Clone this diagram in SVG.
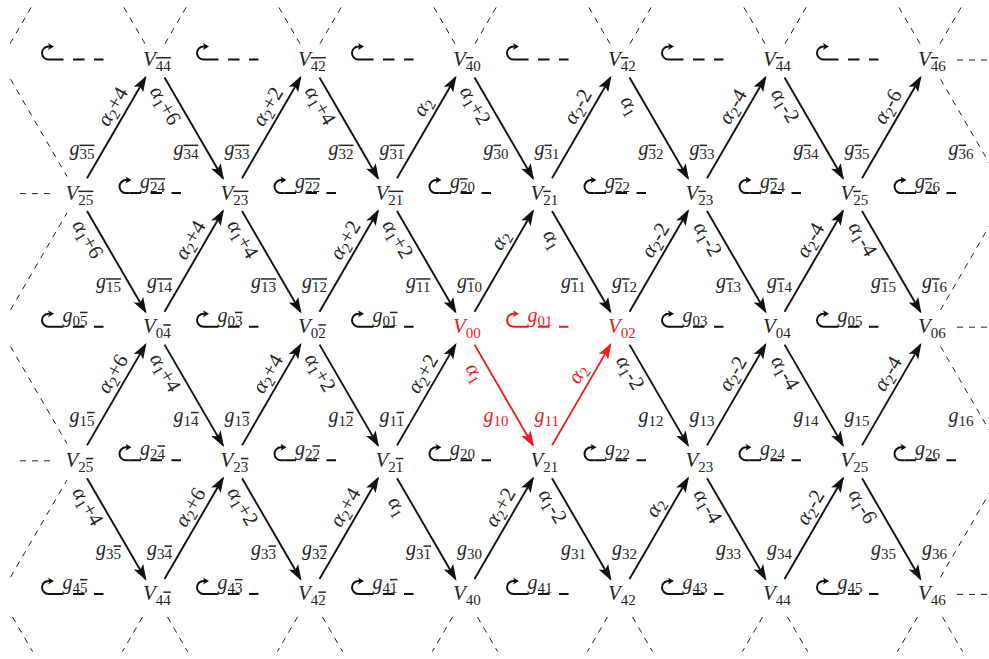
<svg xmlns="http://www.w3.org/2000/svg" xmlns:xlink="http://www.w3.org/1999/xlink" width="989" height="659" viewBox="0 0 989 659">
<style>
text{font-family:"Liberation Serif","Times New Roman",serif;fill:#262626}
.v{font-size:21px;font-style:italic}
.g{font-size:20px;font-style:italic}
.s{font-size:15px;font-style:normal}
.a{font-size:21px;font-style:normal;text-anchor:middle}
.as{font-size:15px}
.it{font-style:italic}
.ob{text-decoration:overline}
.e{stroke:#111;stroke-width:1.9;marker-end:url(#ah)}
.er{stroke:#ed1c24;stroke-width:1.9;marker-end:url(#ahr)}
.d{stroke:#222;stroke-width:1;stroke-dasharray:6 6;fill:none}
.hk{stroke-width:2;fill:none}
.ld{stroke-width:2;stroke-dasharray:11.5 9.5}
text.r,.r text,tspan.r{fill:#ed1c24}
</style>
<defs>
<marker id="ah" markerUnits="userSpaceOnUse" viewBox="-16 -7 19 14" refX="0" refY="0" markerWidth="19" markerHeight="14" orient="auto"><path d="M2,0 L-14,-5.5 L-10.5,0 L-14,5.5 Z" fill="#111"/></marker>
<marker id="ahr" markerUnits="userSpaceOnUse" viewBox="-16 -7 19 14" refX="0" refY="0" markerWidth="19" markerHeight="14" orient="auto"><path d="M2,0 L-14,-5.5 L-10.5,0 L-14,5.5 Z" fill="#ed1c24"/></marker>
<g id="loop" stroke="#111"><path class="hk" d="M-25.5,0 H-29 A6.5,6.5 0 0 1 -29,-13 H-27.5"/><polygon points="-23.5,-13 -29.5,-16.5 -28,-13 -29.5,-9.5" fill="#111" stroke="none"/><line class="ld" x1="-25.5" y1="0" x2="26" y2="0"/></g>
<g id="loopR" stroke="#ed1c24"><path class="hk" d="M-25.5,0 H-29 A6.5,6.5 0 0 1 -29,-13 H-27.5"/><polygon points="-23.5,-13 -29.5,-16.5 -28,-13 -29.5,-9.5" fill="#ed1c24" stroke="none"/><line class="ld" x1="-25.5" y1="0" x2="26" y2="0"/></g>
</defs>

<g id="connectors">
<g id="edges">
<line class="e" x1="87.03" y1="178.16" x2="145.47" y2="77.44"/>
<line class="e" x1="242.03" y1="178.16" x2="300.47" y2="77.44"/>
<line class="e" x1="397.03" y1="178.16" x2="455.47" y2="77.44"/>
<line class="e" x1="552.03" y1="178.16" x2="610.47" y2="77.44"/>
<line class="e" x1="707.03" y1="178.16" x2="765.47" y2="77.44"/>
<line class="e" x1="862.03" y1="178.16" x2="920.47" y2="77.44"/>
<line class="e" x1="164.53" y1="77.44" x2="222.97" y2="178.16"/>
<line class="e" x1="319.53" y1="77.44" x2="377.97" y2="178.16"/>
<line class="e" x1="474.53" y1="77.44" x2="532.97" y2="178.16"/>
<line class="e" x1="629.53" y1="77.44" x2="687.97" y2="178.16"/>
<line class="e" x1="784.53" y1="77.44" x2="842.97" y2="178.16"/>

<line class="e" x1="87.03" y1="211.04" x2="145.47" y2="311.76"/>
<line class="e" x1="242.03" y1="211.04" x2="300.47" y2="311.76"/>
<line class="e" x1="397.03" y1="211.04" x2="455.47" y2="311.76"/>
<line class="e" x1="552.03" y1="211.04" x2="610.47" y2="311.76"/>
<line class="e" x1="707.03" y1="211.04" x2="765.47" y2="311.76"/>
<line class="e" x1="862.03" y1="211.04" x2="920.47" y2="311.76"/>
<line class="e" x1="164.53" y1="311.76" x2="222.97" y2="211.04"/>
<line class="e" x1="319.53" y1="311.76" x2="377.97" y2="211.04"/>
<line class="e" x1="474.53" y1="311.76" x2="532.97" y2="211.04"/>
<line class="e" x1="629.53" y1="311.76" x2="687.97" y2="211.04"/>
<line class="e" x1="784.53" y1="311.76" x2="842.97" y2="211.04"/>

<line class="e" x1="87.03" y1="445.36" x2="145.47" y2="344.64"/>
<line class="e" x1="242.03" y1="445.36" x2="300.47" y2="344.64"/>
<line class="e" x1="397.03" y1="445.36" x2="455.47" y2="344.64"/>
<line class="er" x1="552.03" y1="445.36" x2="610.47" y2="344.64"/>
<line class="e" x1="707.03" y1="445.36" x2="765.47" y2="344.64"/>
<line class="e" x1="862.03" y1="445.36" x2="920.47" y2="344.64"/>
<line class="e" x1="164.53" y1="344.64" x2="222.97" y2="445.36"/>
<line class="e" x1="319.53" y1="344.64" x2="377.97" y2="445.36"/>
<line class="er" x1="474.53" y1="344.64" x2="532.97" y2="445.36"/>
<line class="e" x1="629.53" y1="344.64" x2="687.97" y2="445.36"/>
<line class="e" x1="784.53" y1="344.64" x2="842.97" y2="445.36"/>

<line class="e" x1="87.03" y1="478.24" x2="145.47" y2="578.96"/>
<line class="e" x1="242.03" y1="478.24" x2="300.47" y2="578.96"/>
<line class="e" x1="397.03" y1="478.24" x2="455.47" y2="578.96"/>
<line class="e" x1="552.03" y1="478.24" x2="610.47" y2="578.96"/>
<line class="e" x1="707.03" y1="478.24" x2="765.47" y2="578.96"/>
<line class="e" x1="862.03" y1="478.24" x2="920.47" y2="578.96"/>
<line class="e" x1="164.53" y1="578.96" x2="222.97" y2="478.24"/>
<line class="e" x1="319.53" y1="578.96" x2="377.97" y2="478.24"/>
<line class="e" x1="474.53" y1="578.96" x2="532.97" y2="478.24"/>
<line class="e" x1="629.53" y1="578.96" x2="687.97" y2="478.24"/>
<line class="e" x1="784.53" y1="578.96" x2="842.97" y2="478.24"/>
</g>

<g id="boundary" class="d">
<path d="M10,43.7 L31.1,7.4 M145,43.7 L123.9,7.4 M165,43.7 L186.1,7.4 M300,43.7 L278.9,7.4 M320,43.7 L341.1,7.4 M455,43.7 L433.9,7.4 M475,43.7 L496.1,7.4 M610,43.7 L588.9,7.4 M630,43.7 L651.1,7.4 M765,43.7 L743.9,7.4 M785,43.7 L806.1,7.4 M920,43.7 L898.9,7.4 M940,43.7 L961.1,7.4"/>
<path d="M12.5,617 L32.6,651.6 M142.5,617 L122.4,651.6 M167.5,617 L187.6,651.6 M297.5,617 L277.4,651.6 M322.5,617 L342.6,651.6 M452.5,617 L432.4,651.6 M477.5,617 L497.6,651.6 M607.5,617 L587.4,651.6 M632.5,617 L652.6,651.6 M762.5,617 L742.4,651.6 M787.5,617 L807.6,651.6 M917.5,617 L897.4,651.6 M942.5,617 L962.6,651.6"/>
<path d="M10.5,79.2 L67,176.4 M10.5,310 L67,212.8 M10.5,346.4 L67,443.6 M10.5,577.2 L67,480"/>
<path d="M940.5,79.2 L997,176.4 M940.5,310 L997,212.8 M940.5,346.4 L997,443.6 M940.5,577.2 L997,480"/>
<path d="M20,193.6 H52 M20,460.8 H52 M957,60 H989 M957,327.2 H989 M957,594.4 H989"/>
</g>

<g id="loops">
<use xlink:href="#loop" x="77.5" y="59.5"/><use xlink:href="#loop" x="232.5" y="59.5"/><use xlink:href="#loop" x="387.5" y="59.5"/><use xlink:href="#loop" x="542.5" y="59.5"/><use xlink:href="#loop" x="697.5" y="59.5"/><use xlink:href="#loop" x="852.5" y="59.5"/>
<use xlink:href="#loop" x="155" y="193.1"/><use xlink:href="#loop" x="310" y="193.1"/><use xlink:href="#loop" x="465" y="193.1"/><use xlink:href="#loop" x="620" y="193.1"/><use xlink:href="#loop" x="775" y="193.1"/><use xlink:href="#loop" x="930" y="193.1"/>
<use xlink:href="#loop" x="77.5" y="326.7"/><use xlink:href="#loop" x="232.5" y="326.7"/><use xlink:href="#loop" x="387.5" y="326.7"/><use xlink:href="#loopR" x="542.5" y="326.7"/><use xlink:href="#loop" x="697.5" y="326.7"/><use xlink:href="#loop" x="852.5" y="326.7"/>
<use xlink:href="#loop" x="155" y="460.3"/><use xlink:href="#loop" x="310" y="460.3"/><use xlink:href="#loop" x="465" y="460.3"/><use xlink:href="#loop" x="620" y="460.3"/><use xlink:href="#loop" x="775" y="460.3"/><use xlink:href="#loop" x="930" y="460.3"/>
<use xlink:href="#loop" x="77.5" y="593.9"/><use xlink:href="#loop" x="232.5" y="593.9"/><use xlink:href="#loop" x="387.5" y="593.9"/><use xlink:href="#loop" x="542.5" y="593.9"/><use xlink:href="#loop" x="697.5" y="593.9"/><use xlink:href="#loop" x="852.5" y="593.9"/>
</g>

<g id="loop-labels">
<text class="g" x="140" y="188.1">g<tspan class="s" dy="4"><tspan class="ob">24</tspan></tspan></text>
<text class="g" x="295" y="188.1">g<tspan class="s" dy="4"><tspan class="ob">22</tspan></tspan></text>
<text class="g" x="450" y="188.1">g<tspan class="s" dy="4"><tspan class="ob">2</tspan>0</tspan></text>
<text class="g" x="605" y="188.1">g<tspan class="s" dy="4"><tspan class="ob">2</tspan>2</tspan></text>
<text class="g" x="760" y="188.1">g<tspan class="s" dy="4"><tspan class="ob">2</tspan>4</tspan></text>
<text class="g" x="915" y="188.1">g<tspan class="s" dy="4"><tspan class="ob">2</tspan>6</tspan></text>
<text class="g" x="62.5" y="321.7">g<tspan class="s" dy="4">0<tspan class="ob">5</tspan></tspan></text>
<text class="g" x="217.5" y="321.7">g<tspan class="s" dy="4">0<tspan class="ob">3</tspan></tspan></text>
<text class="g" x="372.5" y="321.7">g<tspan class="s" dy="4">0<tspan class="ob">1</tspan></tspan></text>
<text class="g r" x="527.5" y="321.7">g<tspan class="s" dy="4">01</tspan></text>
<text class="g" x="682.5" y="321.7">g<tspan class="s" dy="4">03</tspan></text>
<text class="g" x="837.5" y="321.7">g<tspan class="s" dy="4">05</tspan></text>
<text class="g" x="140" y="455.3">g<tspan class="s" dy="4">2<tspan class="ob">4</tspan></tspan></text>
<text class="g" x="295" y="455.3">g<tspan class="s" dy="4">2<tspan class="ob">2</tspan></tspan></text>
<text class="g" x="450" y="455.3">g<tspan class="s" dy="4">20</tspan></text>
<text class="g" x="605" y="455.3">g<tspan class="s" dy="4">22</tspan></text>
<text class="g" x="760" y="455.3">g<tspan class="s" dy="4">24</tspan></text>
<text class="g" x="915" y="455.3">g<tspan class="s" dy="4">26</tspan></text>
<text class="g" x="62.5" y="588.9">g<tspan class="s" dy="4">4<tspan class="ob">5</tspan></tspan></text>
<text class="g" x="217.5" y="588.9">g<tspan class="s" dy="4">4<tspan class="ob">3</tspan></tspan></text>
<text class="g" x="372.5" y="588.9">g<tspan class="s" dy="4">4<tspan class="ob">1</tspan></tspan></text>
<text class="g" x="527.5" y="588.9">g<tspan class="s" dy="4">41</tspan></text>
<text class="g" x="682.5" y="588.9">g<tspan class="s" dy="4">43</tspan></text>
<text class="g" x="837.5" y="588.9">g<tspan class="s" dy="4">45</tspan></text>
</g>

<g id="edge-g-labels">
<text class="g" x="69.5" y="154.6">g<tspan class="s" dy="4"><tspan class="ob">35</tspan></tspan></text>
<text class="g" x="173.5" y="154.6">g<tspan class="s" dy="4"><tspan class="ob">34</tspan></tspan></text>
<text class="g" x="224.5" y="154.6">g<tspan class="s" dy="4"><tspan class="ob">33</tspan></tspan></text>
<text class="g" x="328.5" y="154.6">g<tspan class="s" dy="4"><tspan class="ob">32</tspan></tspan></text>
<text class="g" x="379.5" y="154.6">g<tspan class="s" dy="4"><tspan class="ob">31</tspan></tspan></text>
<text class="g" x="483.5" y="154.6">g<tspan class="s" dy="4"><tspan class="ob">3</tspan>0</tspan></text>
<text class="g" x="534.5" y="154.6">g<tspan class="s" dy="4"><tspan class="ob">3</tspan>1</tspan></text>
<text class="g" x="638.5" y="154.6">g<tspan class="s" dy="4"><tspan class="ob">3</tspan>2</tspan></text>
<text class="g" x="689.5" y="154.6">g<tspan class="s" dy="4"><tspan class="ob">3</tspan>3</tspan></text>
<text class="g" x="793.5" y="154.6">g<tspan class="s" dy="4"><tspan class="ob">3</tspan>4</tspan></text>
<text class="g" x="844.5" y="154.6">g<tspan class="s" dy="4"><tspan class="ob">3</tspan>5</tspan></text>
<text class="g" x="948.5" y="154.6">g<tspan class="s" dy="4"><tspan class="ob">3</tspan>6</tspan></text>

<text class="g" x="96" y="288.2">g<tspan class="s" dy="4"><tspan class="ob">15</tspan></tspan></text>
<text class="g" x="147" y="288.2">g<tspan class="s" dy="4"><tspan class="ob">14</tspan></tspan></text>
<text class="g" x="251" y="288.2">g<tspan class="s" dy="4"><tspan class="ob">13</tspan></tspan></text>
<text class="g" x="302" y="288.2">g<tspan class="s" dy="4"><tspan class="ob">12</tspan></tspan></text>
<text class="g" x="406" y="288.2">g<tspan class="s" dy="4"><tspan class="ob">11</tspan></tspan></text>
<text class="g" x="457" y="288.2">g<tspan class="s" dy="4"><tspan class="ob">1</tspan>0</tspan></text>
<text class="g" x="561" y="288.2">g<tspan class="s" dy="4"><tspan class="ob">1</tspan>1</tspan></text>
<text class="g" x="612" y="288.2">g<tspan class="s" dy="4"><tspan class="ob">1</tspan>2</tspan></text>
<text class="g" x="716" y="288.2">g<tspan class="s" dy="4"><tspan class="ob">1</tspan>3</tspan></text>
<text class="g" x="767" y="288.2">g<tspan class="s" dy="4"><tspan class="ob">1</tspan>4</tspan></text>
<text class="g" x="871" y="288.2">g<tspan class="s" dy="4"><tspan class="ob">1</tspan>5</tspan></text>
<text class="g" x="922" y="288.2">g<tspan class="s" dy="4"><tspan class="ob">1</tspan>6</tspan></text>

<text class="g" x="69.5" y="421.8">g<tspan class="s" dy="4">1<tspan class="ob">5</tspan></tspan></text>
<text class="g" x="173.5" y="421.8">g<tspan class="s" dy="4">1<tspan class="ob">4</tspan></tspan></text>
<text class="g" x="224.5" y="421.8">g<tspan class="s" dy="4">1<tspan class="ob">3</tspan></tspan></text>
<text class="g" x="328.5" y="421.8">g<tspan class="s" dy="4">1<tspan class="ob">2</tspan></tspan></text>
<text class="g" x="379.5" y="421.8">g<tspan class="s" dy="4">1<tspan class="ob">1</tspan></tspan></text>
<text class="g r" x="483.5" y="421.8">g<tspan class="s" dy="4">10</tspan></text>
<text class="g r" x="534.5" y="421.8">g<tspan class="s" dy="4">11</tspan></text>
<text class="g" x="638.5" y="421.8">g<tspan class="s" dy="4">12</tspan></text>
<text class="g" x="689.5" y="421.8">g<tspan class="s" dy="4">13</tspan></text>
<text class="g" x="793.5" y="421.8">g<tspan class="s" dy="4">14</tspan></text>
<text class="g" x="844.5" y="421.8">g<tspan class="s" dy="4">15</tspan></text>
<text class="g" x="948.5" y="421.8">g<tspan class="s" dy="4">16</tspan></text>

<text class="g" x="96" y="555.4">g<tspan class="s" dy="4">3<tspan class="ob">5</tspan></tspan></text>
<text class="g" x="147" y="555.4">g<tspan class="s" dy="4">3<tspan class="ob">4</tspan></tspan></text>
<text class="g" x="251" y="555.4">g<tspan class="s" dy="4">3<tspan class="ob">3</tspan></tspan></text>
<text class="g" x="302" y="555.4">g<tspan class="s" dy="4">3<tspan class="ob">2</tspan></tspan></text>
<text class="g" x="406" y="555.4">g<tspan class="s" dy="4">3<tspan class="ob">1</tspan></tspan></text>
<text class="g" x="457" y="555.4">g<tspan class="s" dy="4">30</tspan></text>
<text class="g" x="561" y="555.4">g<tspan class="s" dy="4">31</tspan></text>
<text class="g" x="612" y="555.4">g<tspan class="s" dy="4">32</tspan></text>
<text class="g" x="716" y="555.4">g<tspan class="s" dy="4">33</tspan></text>
<text class="g" x="767" y="555.4">g<tspan class="s" dy="4">34</tspan></text>
<text class="g" x="871" y="555.4">g<tspan class="s" dy="4">35</tspan></text>
<text class="g" x="922" y="555.4">g<tspan class="s" dy="4">36</tspan></text>
</g>

<g id="edge-alpha-labels">
<text class="a" transform="translate(113.25,106.8) rotate(-60)" y="6"><tspan class="it">α</tspan><tspan class="as" dy="4">2</tspan><tspan dy="-4">+4</tspan></text>
<text class="a" transform="translate(268.25,106.8) rotate(-60)" y="6"><tspan class="it">α</tspan><tspan class="as" dy="4">2</tspan><tspan dy="-4">+2</tspan></text>
<text class="a" transform="translate(423.25,106.8) rotate(-60)" y="6"><tspan class="it">α</tspan><tspan class="as" dy="4">2</tspan></text>
<text class="a" transform="translate(578.25,106.8) rotate(-60)" y="6"><tspan class="it">α</tspan><tspan class="as" dy="4">2</tspan><tspan dy="-4">-2</tspan></text>
<text class="a" transform="translate(733.25,106.8) rotate(-60)" y="6"><tspan class="it">α</tspan><tspan class="as" dy="4">2</tspan><tspan dy="-4">-4</tspan></text>
<text class="a" transform="translate(888.25,106.8) rotate(-60)" y="6"><tspan class="it">α</tspan><tspan class="as" dy="4">2</tspan><tspan dy="-4">-6</tspan></text>
<text class="a" transform="translate(164.75,105.8) rotate(60)" y="6"><tspan class="it">α</tspan><tspan class="as" dy="4">1</tspan><tspan dy="-4">+6</tspan></text>
<text class="a" transform="translate(319.75,105.8) rotate(60)" y="6"><tspan class="it">α</tspan><tspan class="as" dy="4">1</tspan><tspan dy="-4">+4</tspan></text>
<text class="a" transform="translate(474.75,105.8) rotate(60)" y="6"><tspan class="it">α</tspan><tspan class="as" dy="4">1</tspan><tspan dy="-4">+2</tspan></text>
<text class="a" transform="translate(629.75,105.8) rotate(60)" y="6"><tspan class="it">α</tspan><tspan class="as" dy="4">1</tspan></text>
<text class="a" transform="translate(784.75,105.8) rotate(60)" y="6"><tspan class="it">α</tspan><tspan class="as" dy="4">1</tspan><tspan dy="-4">-2</tspan></text>

<text class="a" transform="translate(87.25,239.4) rotate(60)" y="6"><tspan class="it">α</tspan><tspan class="as" dy="4">1</tspan><tspan dy="-4">+6</tspan></text>
<text class="a" transform="translate(242.25,239.4) rotate(60)" y="6"><tspan class="it">α</tspan><tspan class="as" dy="4">1</tspan><tspan dy="-4">+4</tspan></text>
<text class="a" transform="translate(397.25,239.4) rotate(60)" y="6"><tspan class="it">α</tspan><tspan class="as" dy="4">1</tspan><tspan dy="-4">+2</tspan></text>
<text class="a" transform="translate(552.25,239.4) rotate(60)" y="6"><tspan class="it">α</tspan><tspan class="as" dy="4">1</tspan></text>
<text class="a" transform="translate(707.25,239.4) rotate(60)" y="6"><tspan class="it">α</tspan><tspan class="as" dy="4">1</tspan><tspan dy="-4">-2</tspan></text>
<text class="a" transform="translate(862.25,239.4) rotate(60)" y="6"><tspan class="it">α</tspan><tspan class="as" dy="4">1</tspan><tspan dy="-4">-4</tspan></text>
<text class="a" transform="translate(190.75,240.4) rotate(-60)" y="6"><tspan class="it">α</tspan><tspan class="as" dy="4">2</tspan><tspan dy="-4">+4</tspan></text>
<text class="a" transform="translate(345.75,240.4) rotate(-60)" y="6"><tspan class="it">α</tspan><tspan class="as" dy="4">2</tspan><tspan dy="-4">+2</tspan></text>
<text class="a" transform="translate(500.75,240.4) rotate(-60)" y="6"><tspan class="it">α</tspan><tspan class="as" dy="4">2</tspan></text>
<text class="a" transform="translate(655.75,240.4) rotate(-60)" y="6"><tspan class="it">α</tspan><tspan class="as" dy="4">2</tspan><tspan dy="-4">-2</tspan></text>
<text class="a" transform="translate(810.75,240.4) rotate(-60)" y="6"><tspan class="it">α</tspan><tspan class="as" dy="4">2</tspan><tspan dy="-4">-4</tspan></text>

<text class="a" transform="translate(113.25,374) rotate(-60)" y="6"><tspan class="it">α</tspan><tspan class="as" dy="4">2</tspan><tspan dy="-4">+6</tspan></text>
<text class="a" transform="translate(268.25,374) rotate(-60)" y="6"><tspan class="it">α</tspan><tspan class="as" dy="4">2</tspan><tspan dy="-4">+4</tspan></text>
<text class="a" transform="translate(423.25,374) rotate(-60)" y="6"><tspan class="it">α</tspan><tspan class="as" dy="4">2</tspan><tspan dy="-4">+2</tspan></text>
<text class="a r" transform="translate(578.25,374) rotate(-60)" y="6"><tspan class="it">α</tspan><tspan class="as" dy="4">2</tspan></text>
<text class="a" transform="translate(733.25,374) rotate(-60)" y="6"><tspan class="it">α</tspan><tspan class="as" dy="4">2</tspan><tspan dy="-4">-2</tspan></text>
<text class="a" transform="translate(888.25,374) rotate(-60)" y="6"><tspan class="it">α</tspan><tspan class="as" dy="4">2</tspan><tspan dy="-4">-4</tspan></text>
<text class="a" transform="translate(164.75,373) rotate(60)" y="6"><tspan class="it">α</tspan><tspan class="as" dy="4">1</tspan><tspan dy="-4">+4</tspan></text>
<text class="a" transform="translate(319.75,373) rotate(60)" y="6"><tspan class="it">α</tspan><tspan class="as" dy="4">1</tspan><tspan dy="-4">+2</tspan></text>
<text class="a r" transform="translate(474.75,373) rotate(60)" y="6"><tspan class="it">α</tspan><tspan class="as" dy="4">1</tspan></text>
<text class="a" transform="translate(629.75,373) rotate(60)" y="6"><tspan class="it">α</tspan><tspan class="as" dy="4">1</tspan><tspan dy="-4">-2</tspan></text>
<text class="a" transform="translate(784.75,373) rotate(60)" y="6"><tspan class="it">α</tspan><tspan class="as" dy="4">1</tspan><tspan dy="-4">-4</tspan></text>

<text class="a" transform="translate(87.25,506.6) rotate(60)" y="6"><tspan class="it">α</tspan><tspan class="as" dy="4">1</tspan><tspan dy="-4">+4</tspan></text>
<text class="a" transform="translate(242.25,506.6) rotate(60)" y="6"><tspan class="it">α</tspan><tspan class="as" dy="4">1</tspan><tspan dy="-4">+2</tspan></text>
<text class="a" transform="translate(397.25,506.6) rotate(60)" y="6"><tspan class="it">α</tspan><tspan class="as" dy="4">1</tspan></text>
<text class="a" transform="translate(552.25,506.6) rotate(60)" y="6"><tspan class="it">α</tspan><tspan class="as" dy="4">1</tspan><tspan dy="-4">-2</tspan></text>
<text class="a" transform="translate(707.25,506.6) rotate(60)" y="6"><tspan class="it">α</tspan><tspan class="as" dy="4">1</tspan><tspan dy="-4">-4</tspan></text>
<text class="a" transform="translate(862.25,506.6) rotate(60)" y="6"><tspan class="it">α</tspan><tspan class="as" dy="4">1</tspan><tspan dy="-4">-6</tspan></text>
<text class="a" transform="translate(190.75,507.6) rotate(-60)" y="6"><tspan class="it">α</tspan><tspan class="as" dy="4">2</tspan><tspan dy="-4">+6</tspan></text>
<text class="a" transform="translate(345.75,507.6) rotate(-60)" y="6"><tspan class="it">α</tspan><tspan class="as" dy="4">2</tspan><tspan dy="-4">+4</tspan></text>
<text class="a" transform="translate(500.75,507.6) rotate(-60)" y="6"><tspan class="it">α</tspan><tspan class="as" dy="4">2</tspan><tspan dy="-4">+2</tspan></text>
<text class="a" transform="translate(655.75,507.6) rotate(-60)" y="6"><tspan class="it">α</tspan><tspan class="as" dy="4">2</tspan></text>
<text class="a" transform="translate(810.75,507.6) rotate(-60)" y="6"><tspan class="it">α</tspan><tspan class="as" dy="4">2</tspan><tspan dy="-4">-2</tspan></text>
</g>
</g>

<g id="nodes">
<g id="V_m4m4"><text class="v" x="143" y="66">V<tspan class="s" dy="5"><tspan class="ob">44</tspan></tspan></text></g>
<g id="V_m4m2"><text class="v" x="298" y="66">V<tspan class="s" dy="5"><tspan class="ob">42</tspan></tspan></text></g>
<g id="V_m40"><text class="v" x="453" y="66">V<tspan class="s" dy="5"><tspan class="ob">4</tspan>0</tspan></text></g>
<g id="V_m42"><text class="v" x="608" y="66">V<tspan class="s" dy="5"><tspan class="ob">4</tspan>2</tspan></text></g>
<g id="V_m44"><text class="v" x="763" y="66">V<tspan class="s" dy="5"><tspan class="ob">4</tspan>4</tspan></text></g>
<g id="V_m46"><text class="v" x="918" y="66">V<tspan class="s" dy="5"><tspan class="ob">4</tspan>6</tspan></text></g>

<g id="V_m2m5"><text class="v" x="65.5" y="199.6">V<tspan class="s" dy="5"><tspan class="ob">25</tspan></tspan></text></g>
<g id="V_m2m3"><text class="v" x="220.5" y="199.6">V<tspan class="s" dy="5"><tspan class="ob">23</tspan></tspan></text></g>
<g id="V_m2m1"><text class="v" x="375.5" y="199.6">V<tspan class="s" dy="5"><tspan class="ob">21</tspan></tspan></text></g>
<g id="V_m21"><text class="v" x="530.5" y="199.6">V<tspan class="s" dy="5"><tspan class="ob">2</tspan>1</tspan></text></g>
<g id="V_m23"><text class="v" x="685.5" y="199.6">V<tspan class="s" dy="5"><tspan class="ob">2</tspan>3</tspan></text></g>
<g id="V_m25"><text class="v" x="840.5" y="199.6">V<tspan class="s" dy="5"><tspan class="ob">2</tspan>5</tspan></text></g>

<g id="V_0m4"><text class="v" x="143" y="333.2">V<tspan class="s" dy="5">0<tspan class="ob">4</tspan></tspan></text></g>
<g id="V_0m2"><text class="v" x="298" y="333.2">V<tspan class="s" dy="5">0<tspan class="ob">2</tspan></tspan></text></g>
<g id="V_00"><text class="v r" x="453" y="333.2">V<tspan class="s" dy="5">00</tspan></text></g>
<g id="V_02"><text class="v r" x="608" y="333.2">V<tspan class="s" dy="5">02</tspan></text></g>
<g id="V_04"><text class="v" x="763" y="333.2">V<tspan class="s" dy="5">04</tspan></text></g>
<g id="V_06"><text class="v" x="918" y="333.2">V<tspan class="s" dy="5">06</tspan></text></g>

<g id="V_2m5"><text class="v" x="65.5" y="466.8">V<tspan class="s" dy="5">2<tspan class="ob">5</tspan></tspan></text></g>
<g id="V_2m3"><text class="v" x="220.5" y="466.8">V<tspan class="s" dy="5">2<tspan class="ob">3</tspan></tspan></text></g>
<g id="V_2m1"><text class="v" x="375.5" y="466.8">V<tspan class="s" dy="5">2<tspan class="ob">1</tspan></tspan></text></g>
<g id="V_21"><text class="v" x="530.5" y="466.8">V<tspan class="s" dy="5">21</tspan></text></g>
<g id="V_23"><text class="v" x="685.5" y="466.8">V<tspan class="s" dy="5">23</tspan></text></g>
<g id="V_25"><text class="v" x="840.5" y="466.8">V<tspan class="s" dy="5">25</tspan></text></g>

<g id="V_4m4"><text class="v" x="143" y="600.4">V<tspan class="s" dy="5">4<tspan class="ob">4</tspan></tspan></text></g>
<g id="V_4m2"><text class="v" x="298" y="600.4">V<tspan class="s" dy="5">4<tspan class="ob">2</tspan></tspan></text></g>
<g id="V_40"><text class="v" x="453" y="600.4">V<tspan class="s" dy="5">40</tspan></text></g>
<g id="V_42"><text class="v" x="608" y="600.4">V<tspan class="s" dy="5">42</tspan></text></g>
<g id="V_44"><text class="v" x="763" y="600.4">V<tspan class="s" dy="5">44</tspan></text></g>
<g id="V_46"><text class="v" x="918" y="600.4">V<tspan class="s" dy="5">46</tspan></text></g>
</g>
</svg>
